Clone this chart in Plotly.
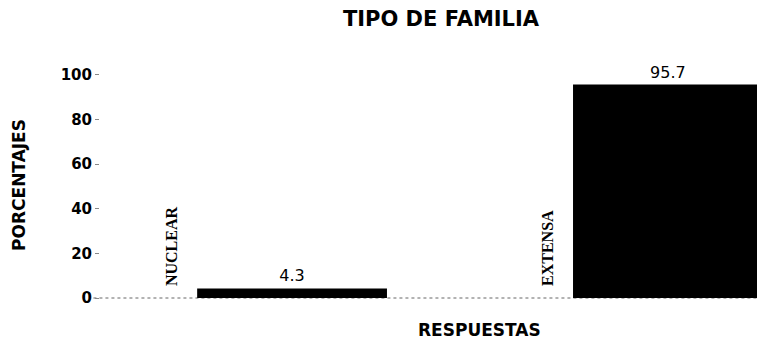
import plotly.graph_objects as go

# Datos del gráfico
categorias = ["NUCLEAR", "EXTENSA"]
porcentajes = [4.3, 95.7]
ticks_y = [0, 20, 40, 60, 80, 100]
titulo = "TIPO DE FAMILIA"
titulo_x = "RESPUESTAS"
titulo_y = "PORCENTAJES"

posiciones = list(range(len(categorias)))
ancho_barra = 0.505

fig = go.Figure()
fig.add_trace(go.Bar(
    x=posiciones,
    y=porcentajes,
    width=ancho_barra,
    marker=dict(color="black", line=dict(width=0)),
    text=[f"{v:.1f}" for v in porcentajes],
    textposition="outside",
    textfont=dict(family="DejaVu Sans", size=16, color="black"),
    cliponaxis=False,
    showlegend=False,
))

# Etiquetas de categoría verticales a la izquierda de cada barra
anotaciones = []
for i, cat in zip(posiciones, categorias):
    anotaciones.append(dict(
        x=i - ancho_barra / 2, y=4.5, xref="x", yref="y",
        text=f"<b>{cat}</b>", textangle=-90, showarrow=False,
        xanchor="center", yanchor="bottom", xshift=-25,
        font=dict(family="Liberation Serif", size=16, color="black"),
    ))

# Título del eje x, centrado bajo el hueco entre barras
anotaciones.append(dict(
    x=(479 - 100) / 657, y=-(330 - 310) / 250, xref="paper", yref="paper",
    text=titulo_x, showarrow=False, yanchor="middle",
    font=dict(family="DejaVu Sans", size=17, color="black", weight="bold"),
))

fig.update_layout(
    width=757, height=340,
    margin=dict(l=100, r=0, t=60, b=30),
    paper_bgcolor="white", plot_bgcolor="white",
    title=dict(text=titulo, x=441 / 757, xanchor="center", y=1 - 19 / 340, yanchor="middle",
               font=dict(family="DejaVu Sans", size=21, color="black", weight="bold")),
    xaxis=dict(range=[-0.511, 1.237], showticklabels=False, showgrid=False,
               zeroline=False, showline=False, ticks=""),
    yaxis=dict(range=[-5.38, 106.7], tickvals=ticks_y, ticks="outside", ticklen=4,
               tickcolor="#888", showgrid=False, zeroline=False, showline=False,
               tickfont=dict(family="DejaVu Sans", size=15, color="black", weight="bold"),
               title=dict(text=titulo_y, standoff=30,
                          font=dict(family="DejaVu Sans", size=17, color="black", weight="bold"))),
    annotations=anotaciones,
    shapes=[dict(type="line", xref="paper", yref="y", x0=-0.01, x1=1, y0=0, y1=0,
                 line=dict(color="#666", width=1, dash="dot"), layer="below")],
)

fig.write_html("out.html")
